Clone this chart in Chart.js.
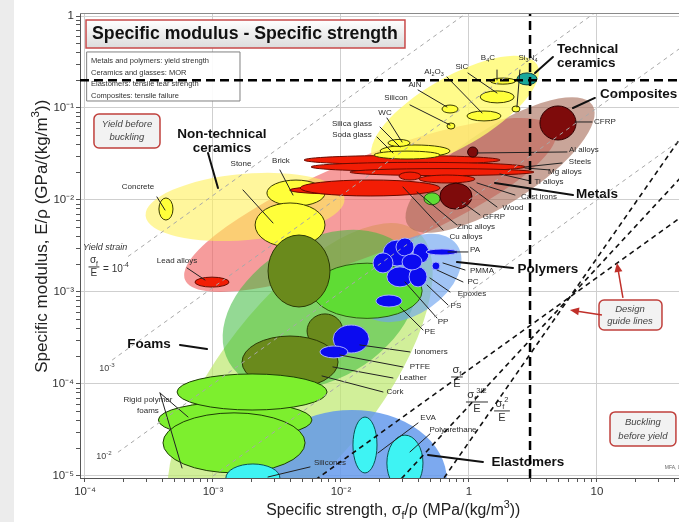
<!DOCTYPE html>
<html>
<head>
<meta charset="utf-8">
<script src="https://cdn.jsdelivr.net/npm/chart.js@4.4.1/dist/chart.umd.min.js"></script>
<style>
  html, body { margin: 0; padding: 0; background: #fff; }
  canvas { display: block; }
</style>
</head>
<body>
<canvas id="chart" width="679" height="522"></canvas>
<script>
"use strict";

// Axis ranges and tick labels (as printed on the chart)
const xMin = 9.14e-5, xMax = 4.375;
const yMin = 9.5e-6, yMax = 1.078;
const xTickValues = [1e-4, 1e-3, 1e-2, 1e-1, 1];
const xTickLabels = ["10⁻⁴", "10⁻³", "10⁻²", "1", "10"];
const yTickValues = [1e-5, 1e-4, 1e-3, 1e-2, 1e-1, 1];
const yTickLabels = ["10⁻⁵", "10⁻⁴", "10⁻³", "10⁻²", "10⁻¹", "1"];

// Family envelopes: centre (strength, modulus) and half-spread in decades
const envelopeNames = ["Foams", "Elastomers", "Metals", "Natural materials", "Polymers", "Composites", "Non-technical ceramics", "Technical ceramics"];
const envelopeStrength = [4.79e-3, 1.22e-2, 1.69e-2, 6.86e-3, 3.46e-2, 0.175, 1.78e-3, 7.78e-2];
const envelopeModulus = [1.10e-4, 9.05e-6, 8.83e-3, 6.37e-4, 1.42e-3, 2.40e-2, 8.39e-3, 9.05e-2];
const envelopeSpreadS = [1.48, 0.74, 1.56, 0.82, 0.45, 0.86, 0.78, 0.74];
const envelopeSpreadE = [0.87, 0.76, 0.52, 0.76, 0.39, 0.41, 0.36, 0.38];

// Material bubbles, in drawing order
const materialNames = ["Wood (parallel)", "Leather", "Cork", "Rigid foam B", "Rigid foam A", "Flexible foam", "Silicones", "EVA", "Polyurethane",
  "Concrete", "Brick", "Stone", "Wood (transverse)", "Lead alloys", "Wood a", "Wood b",
  "Zinc alloys", "Cu alloys", "Al alloys", "Steels", "Mg alloys", "Ti alloys", "Ni alloys", "W alloys", "GFRP", "CFRP",
  "Silica glass", "Soda glass", "WC", "Silicon", "AlN", "Al2O3", "SiC", "B4C", "Si3N4 b", "Si3N4",
  "Nylon", "PMMA", "PC", "Epoxies", "PS", "PET", "PC b", "ABS", "PP", "Ionomers", "PTFE", "PE", "PA"];
const materialStrength = [1.60e-2, 7.50e-3, 4.00e-3, 1.49e-3, 2.02e-3, 1.46e-3, 2.05e-3, 1.54e-2, 3.16e-2,
  4.29e-4, 4.45e-3, 4.00e-3, 4.70e-3, 9.82e-4, 5.62e-2, 5.14e-2,
  1.07e-2, 1.69e-2, 3.00e-2, 4.00e-2, 6.15e-2, 6.73e-2, 3.46e-2, 0.107, 7.91e-2, 0.496,
  3.79e-2, 3.28e-2, 2.84e-2, 7.23e-2, 7.11e-2, 0.131, 0.166, 0.184, 0.233, 0.284,
  2.74e-2, 3.16e-2, 2.13e-2, 2.89e-2, 4.00e-2, 4.22e-2, 3.59e-2, 5.52e-2, 2.37e-2, 1.20e-2, 8.81e-3, 3.00e-2, 6.15e-2];
const materialModulus = [1.03e-3, 3.77e-4, 1.73e-4, 4.06e-5, 8.18e-5, 2.29e-5, 9.51e-6, 2.17e-5, 1.38e-5,
  7.98e-3, 1.19e-2, 5.35e-3, 1.69e-3, 1.28e-3, 2.46e-2, 1.03e-2,
  1.28e-2, 1.35e-2, 2.72e-2, 2.29e-2, 2.01e-2, 1.69e-2, 1.82e-2, 3.32e-2, 1.10e-2, 6.87e-2,
  3.41e-2, 3.08e-2, 4.17e-2, 6.37e-2, 9.75e-2, 8.19e-2, 0.132, 0.196, 9.75e-2, 0.207,
  2.65e-3, 3.08e-3, 2.07e-3, 1.46e-3, 1.46e-3, 2.65e-3, 2.12e-3, 1.92e-3, 7.98e-4, 3.08e-4, 2.23e-4, 1.25e-3, 2.72e-3];
const materialSpreadS = [0.43, 0.14, 0.375, 0.60, 0.586, 0.555, 0.211, 0.094, 0.141,
  0.055, 0.227, 0.273, 0.242, 0.133, 0.078, 0.0625,
  0.43, 0.547, 0.766, 0.836, 0.719, 0.219, 0.086, 0.04, 0.125, 0.141,
  0.273, 0.258, 0.086, 0.031, 0.0625, 0.133, 0.133, 0.10, 0.031, 0.078,
  0.109, 0.07, 0.078, 0.102, 0.07, 0.0625, 0.078, 0.031, 0.102, 0.141, 0.109, 0.0, 0.125];
const materialSpreadE = [0.30, 0.185, 0.283, 0.196, 0.196, 0.326, 0.152, 0.304, 0.304,
  0.12, 0.141, 0.239, 0.391, 0.054, 0.076, 0.065,
  0.043, 0.087, 0.049, 0.049, 0.038, 0.043, 0.043, 0.055, 0.141, 0.185,
  0.065, 0.043, 0.038, 0.033, 0.043, 0.054, 0.065, 0.033, 0.033, 0.065,
  0.141, 0.098, 0.109, 0.109, 0.109, 0.109, 0.087, 0.043, 0.065, 0.152, 0.065, 0.0, 0.033];
const materialKind = ["g", "n", "n", "f", "f", "f", "c", "c", "c",
  "y", "y", "y", "n", "r", "g", "g",
  "r", "r", "r", "r", "r", "r", "r", "d", "d", "d",
  "y", "y", "y", "y", "y", "y", "y", "y", "y", "t",
  "b", "b", "b", "b", "b", "b", "b", "b", "b", "b", "b", "b", "b"];

// Guide lines: yield strain (grey) and design lines (black)
const strainLineStart = [[2.17e-4, 2.43e-3], [1.63e-4, 1.82e-4], [1.81e-4, 1.81e-5], [7.94e-4, 7.94e-6]];
const strainLineEnd = [[0.112, 1.26], [1.12, 1.26], [5.01, 0.501], [5.01, 5.01e-2]];
const designLineStart = [[5.53e-3, 7.94e-6], [2.66e-2, 7.94e-6], [5.83e-2, 7.94e-6]];
const designLineEnd = [[5.01, 7.19e-3], [5.01, 2.05e-2], [5.01, 5.86e-2]];
const limitStrength = 0.3;
const limitModulus = 0.2;

// ---- styles ----
const FONT = "'Liberation Sans', Arial, sans-serif";
const envelopeTilt = [-52, 0, -22, -30, -35, -33, -5, -30];
const envelopeColours = ["rgba(190,232,110,0.7)", "rgba(95,150,235,0.82)", "rgba(240,95,95,0.62)", "rgba(60,185,60,0.55)",
  "rgba(110,165,240,0.65)", "rgba(165,105,85,0.6)", "rgba(255,240,90,0.6)", "rgba(255,250,110,0.8)"];
const kindFill = { f: "#7def2e", n: "#6a8a1c", g: "#5fdc34", y: "#ffff3a", r: "#f21d05", d: "#7e0b0b", b: "#0b0bf0", c: "#3ef3f3", t: "#1aa89b" };
const kindLine = { f: "#1d3d05", n: "#2b3a05", g: "#2d5a10", y: "#3a3a00", r: "#6a0a00", d: "#300000", b: "#a8b0ff", c: "#0a5050", t: "#0a4040" };

// Annotation layout, in log10 units of the axes
const smallLabels = [
  ["Concrete", -3.586, -1.859], ["Stone", -2.781, -1.609], ["Brick", -2.469, -1.576], ["Lead alloys", -3.281, -2.663],
  ["Silicones", -2.086, -4.859], ["EVA", -1.320, -4.370], ["Polyurethane", -1.125, -4.5], ["Cork", -1.578, -4.087],
  ["Leather", -1.4375, -3.935], ["PTFE", -1.383, -3.815], ["Ionomers", -1.297, -3.652], ["PE", -1.305, -3.435],
  ["PP", -1.203, -3.326], ["PS", -1.102, -3.152], ["Epoxies", -0.977, -3.022], ["PC", -0.969, -2.891],
  ["PMMA", -0.898, -2.772], ["PA", -0.953, -2.543], ["Cu alloys", -1.023, -2.402], ["Zinc alloys", -0.945, -2.293],
  ["GFRP", -0.805, -2.185], ["Wood", -0.656, -2.087], ["Cast irons", -0.453, -1.967], ["Ti alloys", -0.375, -1.804],
  ["Mg alloys", -0.25, -1.696], ["Steels", -0.133, -1.587], ["Al alloys", -0.102, -1.457], ["CFRP", 0.0625, -1.152],
  ["SiC", -1.055, -0.554], ["AlN", -1.422, -0.75], ["Silicon", -1.570, -0.891], ["WC", -1.656, -1.054],
  ["Silica glass", -1.914, -1.174], ["Soda glass", -1.914, -1.293], ["Rigid polymer", -3.508, -4.174], ["foams", -3.508, -4.293]
];
const chemLabels = [
  [[["B", 0], ["4", 1], ["C", 0]], -0.852, -0.457],
  [[["Al", 0], ["2", 1], ["O", 0], ["3", 1]], -1.273, -0.609],
  [[["Si", 0], ["3", 1], ["N", 0], ["4", 1]], -0.539, -0.457]
];
const bigLabels = [
  ["Non-technical", -2.93, -1.283, "center"], ["ceramics", -2.93, -1.435, "center"],
  ["Technical", -0.3125, -0.359, "left"], ["ceramics", -0.3125, -0.511, "left"],
  ["Composites", 0.023, -0.848, "left"], ["Metals", 0, -1.935, "center"], ["Polymers", -0.383, -2.75, "center"],
  ["Foams", -3.5, -3.565, "center"], ["Elastomers", -0.539, -4.848, "center"]
];
const thinLeaders = [
  [-3.438, -1.967, -3.375, -2.109], [-2.766, -1.891, -2.531, -2.25], [-2.477, -1.674, -2.375, -1.946],
  [-3.203, -2.739, -3.0625, -2.870], [-3.414, -4.098, -3.195, -4.359], [-3.414, -4.098, -3.242, -4.913],
  [-2.242, -4.902, -2.570, -5.011], [-1.398, -4.424, -1.711, -4.75], [-1.305, -4.543, -1.461, -4.739],
  [-1.672, -4.087, -2.148, -3.913], [-1.594, -3.935, -2.063, -3.815], [-1.516, -3.815, -2.008, -3.685],
  [-1.461, -3.652, -1.852, -3.576], [-1.359, -3.413, -1.539, -3.163], [-1.25, -3.283, -1.5, -2.891],
  [-1.164, -3.141, -1.328, -2.924], [-1.148, -3.0, -1.305, -2.848], [-1.047, -2.891, -1.25, -2.761],
  [-1.031, -2.761, -1.203, -2.685], [-1.008, -2.565, -1.164, -2.565], [-1.203, -2.326, -1.516, -1.859],
  [-1.094, -2.272, -1.406, -1.913], [-0.914, -2.163, -1.055, -2.022], [-0.781, -2.076, -0.992, -1.859],
  [-0.641, -1.946, -0.9375, -1.815], [-0.523, -1.793, -0.758, -1.717], [-0.367, -1.674, -0.5625, -1.652],
  [-0.273, -1.598, -0.5625, -1.641], [-0.234, -1.478, -0.9375, -1.489], [-0.039, -1.152, -0.172, -1.152],
  [-0.781, -0.587, -0.781, -0.696], [-1.008, -0.620, -0.781, -0.837], [-1.172, -0.663, -0.898, -1.054],
  [-1.398, -0.804, -1.172, -0.989], [-1.461, -0.967, -1.148, -1.185], [-1.641, -1.109, -1.523, -1.370],
  [-1.695, -1.207, -1.539, -1.424], [-1.719, -1.315, -1.594, -1.489], [-0.602, -0.587, -0.625, -0.989]
];
const thickLeaders = [
  [-3.039, -1.489, -2.961, -1.870], [-3.258, -3.576, -3.047, -3.620], [-0.891, -4.848, -1.320, -4.772],
  [-0.656, -2.739, -1.094, -2.674], [-0.1875, -1.946, -0.797, -1.815], [-0.016, -0.891, -0.1875, -1.0],
  [-0.344, -0.446, -0.484, -0.620]
];

function toPx(chart, lx, ly) {
  return [chart.scales.x.getPixelForValue(Math.pow(10, lx)), chart.scales.y.getPixelForValue(Math.pow(10, ly))];
}

function richWidth(ctx, parts, size, style) {
  let w = 0;
  parts.forEach(([t, m]) => {
    ctx.font = style + " " + (m ? size * 0.68 : size) + "px " + FONT;
    w += ctx.measureText(t).width;
  });
  return w;
}

function drawRich(ctx, parts, x, y, size, align, style, colour) {
  style = style || "";
  const w = richWidth(ctx, parts, size, style);
  let cx = align === "center" ? x - w / 2 : align === "right" ? x - w : x;
  ctx.fillStyle = colour || "#222";
  ctx.textAlign = "left";
  ctx.textBaseline = "middle";
  parts.forEach(([t, m]) => {
    ctx.font = style + " " + (m ? size * 0.68 : size) + "px " + FONT;
    const dy = m === 1 ? size * 0.3 : m === 2 ? -size * 0.38 : 0;
    ctx.fillText(t, cx, y + dy);
    cx += ctx.measureText(t).width;
  });
  return w;
}

function drawFraction(ctx, num, den, x, y, size) {
  const wn = richWidth(ctx, num, size, "");
  const wd = richWidth(ctx, den, size, "");
  const w = Math.max(wn, wd) + 2;
  drawRich(ctx, num, x - w / 2 + 1, y - size * 0.62, size, "left", "", "#333");
  drawRich(ctx, den, x, y + size * 0.62, size, "center", "", "#333");
  ctx.strokeStyle = "#333";
  ctx.lineWidth = 1;
  ctx.beginPath();
  ctx.moveTo(x - w / 2, y);
  ctx.lineTo(x + w / 2, y);
  ctx.stroke();
}

function blob(ctx, chart, s, e, ss, se, tilt, fill, line) {
  const xs = chart.scales.x, ys = chart.scales.y;
  const cx = xs.getPixelForValue(s), cy = ys.getPixelForValue(e);
  const rx = Math.abs(xs.getPixelForValue(s * Math.pow(10, ss)) - cx);
  const ry = Math.abs(ys.getPixelForValue(e * Math.pow(10, se)) - cy);
  if (rx < 0.5 || ry < 0.5) return;
  ctx.beginPath();
  ctx.ellipse(cx, cy, rx, ry, tilt * Math.PI / 180, 0, Math.PI * 2);
  ctx.fillStyle = fill;
  ctx.fill();
  if (line) {
    ctx.strokeStyle = line;
    ctx.lineWidth = 1;
    ctx.stroke();
  }
}

function box(ctx, chart, a, b, fill, stroke, radius, width) {
  const p = toPx(chart, a[0], a[1]), q = toPx(chart, b[0], b[1]);
  ctx.beginPath();
  ctx.roundRect(p[0], p[1], q[0] - p[0], q[1] - p[1], radius);
  ctx.fillStyle = fill;
  ctx.fill();
  ctx.strokeStyle = stroke;
  ctx.lineWidth = width;
  ctx.stroke();
}

function arrow(ctx, chart, a, b) {
  const p = toPx(chart, a[0], a[1]), q = toPx(chart, b[0], b[1]);
  const ang = Math.atan2(q[1] - p[1], q[0] - p[0]);
  ctx.strokeStyle = "#c0302a";
  ctx.fillStyle = "#c0302a";
  ctx.lineWidth = 1.5;
  ctx.beginPath();
  ctx.moveTo(p[0], p[1]);
  ctx.lineTo(q[0] - 6 * Math.cos(ang), q[1] - 6 * Math.sin(ang));
  ctx.stroke();
  ctx.beginPath();
  ctx.moveTo(q[0], q[1]);
  ctx.lineTo(q[0] - 9 * Math.cos(ang) + 4 * Math.sin(ang), q[1] - 9 * Math.sin(ang) - 4 * Math.cos(ang));
  ctx.lineTo(q[0] - 9 * Math.cos(ang) - 4 * Math.sin(ang), q[1] - 9 * Math.sin(ang) + 4 * Math.cos(ang));
  ctx.closePath();
  ctx.fill();
}

const ashbyPlugin = {
  id: "ashby",
  beforeDraw(chart) {
    const ctx = chart.ctx;
    ctx.save();
    ctx.fillStyle = "#fff";
    ctx.fillRect(0, 0, chart.width, chart.height);
    ctx.fillStyle = "#ececec";
    ctx.fillRect(0, 0, 14, chart.height);
    ctx.restore();
  },
  beforeDatasetsDraw(chart) {
    const ctx = chart.ctx, area = chart.chartArea;
    ctx.save();
    ctx.beginPath();
    ctx.rect(area.left, area.top, area.right - area.left, area.bottom - area.top);
    ctx.clip();
    envelopeNames.forEach((n, i) => {
      blob(ctx, chart, envelopeStrength[i], envelopeModulus[i], envelopeSpreadS[i], envelopeSpreadE[i], envelopeTilt[i], envelopeColours[i], null);
    });
    materialNames.forEach((n, i) => {
      const k = materialKind[i];
      blob(ctx, chart, materialStrength[i], materialModulus[i], materialSpreadS[i], materialSpreadE[i], 0, kindFill[k], kindLine[k]);
    });
    ctx.restore();

    ctx.save();
    ctx.lineCap = "round";
    ctx.strokeStyle = "#222";
    ctx.lineWidth = 1;
    thinLeaders.forEach(l => {
      const p = toPx(chart, l[0], l[1]), q = toPx(chart, l[2], l[3]);
      ctx.beginPath(); ctx.moveTo(p[0], p[1]); ctx.lineTo(q[0], q[1]); ctx.stroke();
    });
    ctx.lineWidth = 2;
    ctx.strokeStyle = "#111";
    thickLeaders.forEach(l => {
      const p = toPx(chart, l[0], l[1]), q = toPx(chart, l[2], l[3]);
      ctx.beginPath(); ctx.moveTo(p[0], p[1]); ctx.lineTo(q[0], q[1]); ctx.stroke();
    });

    smallLabels.forEach(([t, lx, ly]) => {
      const p = toPx(chart, lx, ly);
      drawRich(ctx, [[t, 0]], p[0], p[1], 8, "center", "", "#2a2a2a");
    });
    chemLabels.forEach(([parts, lx, ly]) => {
      const p = toPx(chart, lx, ly);
      drawRich(ctx, parts, p[0], p[1], 8, "center", "", "#2a2a2a");
    });
    bigLabels.forEach(([t, lx, ly, al]) => {
      const p = toPx(chart, lx, ly);
      drawRich(ctx, [[t, 0]], p[0], p[1], 13.5, al, "bold", "#111");
    });

    // yield strain labels
    let p = toPx(chart, -4.016, -2.522);
    drawRich(ctx, [["Yield strain", 0]], p[0], p[1], 9, "left", "italic", "#333");
    p = toPx(chart, -3.930, -2.728);
    drawFraction(ctx, [["σ", 0], ["f", 1]], [["E", 0]], p[0], p[1], 10);
    p = toPx(chart, -3.859, -2.75);
    drawRich(ctx, [["= 10", 0], ["-4", 2]], p[0], p[1], 10, "left", "", "#333");
    p = toPx(chart, -3.828, -3.837);
    drawRich(ctx, [["10", 0], ["-3", 2]], p[0], p[1], 9, "center", "", "#444");
    p = toPx(chart, -3.852, -4.793);
    drawRich(ctx, [["10", 0], ["-2", 2]], p[0], p[1], 9, "center", "", "#444");

    // design line labels
    p = toPx(chart, -1.094, -3.924);
    drawFraction(ctx, [["σ", 0], ["f", 1]], [["E", 0]], p[0], p[1], 11);
    p = toPx(chart, -0.9375, -4.196);
    drawFraction(ctx, [["σ", 0], ["f", 1], ["3/2", 2]], [["E", 0]], p[0], p[1], 11);
    p = toPx(chart, -0.742, -4.293);
    drawFraction(ctx, [["σ", 0], ["f", 1], ["2", 2]], [["E", 0]], p[0], p[1], 11);

    // title and key boxes
    const tp = toPx(chart, -3.992, -0.0435), tq = toPx(chart, -1.5, -0.348);
    const grad = ctx.createLinearGradient(0, tp[1], 0, tq[1]);
    grad.addColorStop(0, "#ffffff");
    grad.addColorStop(1, "#dcdcdc");
    box(ctx, chart, [-3.992, -0.0435], [-1.5, -0.348], grad, "#c84a4a", 0, 1.5);
    p = toPx(chart, -3.945, -0.196);
    drawRich(ctx, [["Specific modulus - Specific strength", 0]], p[0], p[1], 17.7, "left", "bold", "#111");

    box(ctx, chart, [-3.984, -0.391], [-2.789, -0.924], "rgba(255,255,255,0.9)", "#808080", 0, 1);
    const keyLines = ["Metals and polymers: yield strength", "Ceramics and glasses: MOR", "Elastomers: tensile tear strength", "Composites: tensile failure"];
    [-0.489, -0.614, -0.739, -0.870].forEach((ly, i) => {
      const q = toPx(chart, -3.953, ly);
      drawRich(ctx, [[keyLines[i], 0]], q[0], q[1], 7.5, "left", "", "#333");
    });
    ctx.restore();
  },
  afterDatasetsDraw(chart) {
    const ctx = chart.ctx;
    ctx.save();
    box(ctx, chart, [-3.930, -1.065], [-3.414, -1.435], "#f2f2f2", "#c0403c", 5, 1.5);
    let p = toPx(chart, -3.672, -1.174);
    drawRich(ctx, [["Yield before", 0]], p[0], p[1], 9.5, "center", "italic", "#444");
    p = toPx(chart, -3.672, -1.315);
    drawRich(ctx, [["buckling", 0]], p[0], p[1], 9.5, "center", "italic", "#444");

    box(ctx, chart, [0.016, -3.087], [0.508, -3.413], "#f2f2f2", "#c0403c", 5, 1.5);
    p = toPx(chart, 0.258, -3.185);
    drawRich(ctx, [["Design", 0]], p[0], p[1], 9.5, "center", "italic", "#444");
    p = toPx(chart, 0.258, -3.315);
    drawRich(ctx, [["guide lines", 0]], p[0], p[1], 9.5, "center", "italic", "#444");
    arrow(ctx, chart, [0.203, -3.065], [0.156, -2.685]);
    arrow(ctx, chart, [0.039, -3.25], [-0.211, -3.196]);

    box(ctx, chart, [0.102, -4.304], [0.617, -4.674], "#f2f2f2", "#c0403c", 5, 1.5);
    p = toPx(chart, 0.359, -4.413);
    drawRich(ctx, [["Buckling", 0]], p[0], p[1], 9.5, "center", "italic", "#444");
    p = toPx(chart, 0.359, -4.565);
    drawRich(ctx, [["before yield", 0]], p[0], p[1], 9.5, "center", "italic", "#444");
    p = toPx(chart, 0.53, -4.913);
    drawRich(ctx, [["MFA, 0", 0]], p[0], p[1], 5, "left", "", "#666");

    // top frame line
    const a = chart.chartArea;
    ctx.strokeStyle = "#8a8a8a";
    ctx.lineWidth = 1;
    ctx.beginPath();
    ctx.moveTo(a.left, a.top + 0.5);
    ctx.lineTo(a.right, a.top + 0.5);
    ctx.stroke();
    ctx.restore();
  },
  afterDraw(chart) {
    const ctx = chart.ctx, a = chart.chartArea;
    ctx.save();
    drawRich(ctx, [["Specific strength, σ", 0], ["f", 1], ["/ρ (MPa/(kg/m", 0], ["3", 2], ["))", 0]],
      a.left + (a.right - a.left) * 0.523, chart.height - 11, 15.8, "center", "", "#222");
    ctx.translate(a.left - 38, a.top + (a.bottom - a.top) * 0.48);
    ctx.rotate(-Math.PI / 2);
    drawRich(ctx, [["Specific modulus, E/ρ (GPa/(kg/m", 0], ["3", 2], ["))", 0]], 0, 0, 17, "center", "", "#222");
    ctx.restore();
  }
};

function logTicks(lo, hi) {
  const ticks = [];
  for (let e = -6; e <= 1; e++) {
    for (let k = 1; k <= 9; k++) {
      const v = k * Math.pow(10, e);
      if (v >= lo * 0.999 && v <= hi * 1.001) ticks.push({ value: v, major: k === 1 });
    }
  }
  return ticks;
}

function tickText(values, labels) {
  return function (v) {
    const i = values.findIndex(t => Math.abs(Math.log10(t) - Math.log10(v)) < 1e-6);
    return i >= 0 ? labels[i] : "";
  };
}

const datasets = [];
strainLineStart.forEach((s, i) => {
  datasets.push({
    data: [{ x: s[0], y: s[1] }, { x: strainLineEnd[i][0], y: strainLineEnd[i][1] }],
    showLine: true, borderColor: "#a8a8a8", borderWidth: 1, borderDash: [4, 4], pointRadius: 0
  });
});
designLineStart.forEach((s, i) => {
  datasets.push({
    data: [{ x: s[0], y: s[1] }, { x: designLineEnd[i][0], y: designLineEnd[i][1] }],
    showLine: true, borderColor: "#111", borderWidth: 1.6, borderDash: [5, 4], pointRadius: 0
  });
});
datasets.push({
  data: [{ x: limitStrength, y: yMin }, { x: limitStrength, y: yMax }],
  showLine: true, borderColor: "#000", borderWidth: 2.5, borderDash: [9, 5], pointRadius: 0
});
datasets.push({
  data: [{ x: xMin, y: limitModulus }, { x: xMax, y: limitModulus }],
  showLine: true, borderColor: "#000", borderWidth: 2.5, borderDash: [9, 5], pointRadius: 0
});

new Chart(document.getElementById("chart"), {
  type: "scatter",
  data: { datasets: datasets },
  options: {
    responsive: false,
    animation: false,
    layout: { padding: { top: 13, right: 0, left: 0, bottom: 0 } },
    plugins: { legend: { display: false }, tooltip: { enabled: false } },
    scales: {
      x: {
        type: "logarithmic", min: xMin, max: xMax, bounds: "data",
        afterBuildTicks: s => { s.ticks = logTicks(xMin, xMax); },
        afterFit: s => { s.height = 44; },
        ticks: { autoSkip: false, maxRotation: 0, padding: 3, color: "#333", font: { size: 11.5, family: FONT }, callback: tickText(xTickValues, xTickLabels) },
        grid: { color: c => (c.tick && c.tick.major ? "#cfcfcf" : "rgba(0,0,0,0)"), tickColor: "#555", tickLength: 4 },
        border: { color: "#555", width: 1 }
      },
      y: {
        type: "logarithmic", min: yMin, max: yMax, bounds: "data",
        afterBuildTicks: s => { s.ticks = logTicks(yMin, yMax); },
        afterFit: s => { s.width = 80; },
        ticks: { autoSkip: false, padding: 2, color: "#333", font: { size: 11.5, family: FONT }, callback: tickText(yTickValues, yTickLabels) },
        grid: { color: c => (c.tick && c.tick.major ? "#cfcfcf" : "rgba(0,0,0,0)"), tickColor: "#555", tickLength: 4 },
        border: { color: "#555", width: 1 }
      }
    }
  },
  plugins: [ashbyPlugin]
});
</script>
</body>
</html>
